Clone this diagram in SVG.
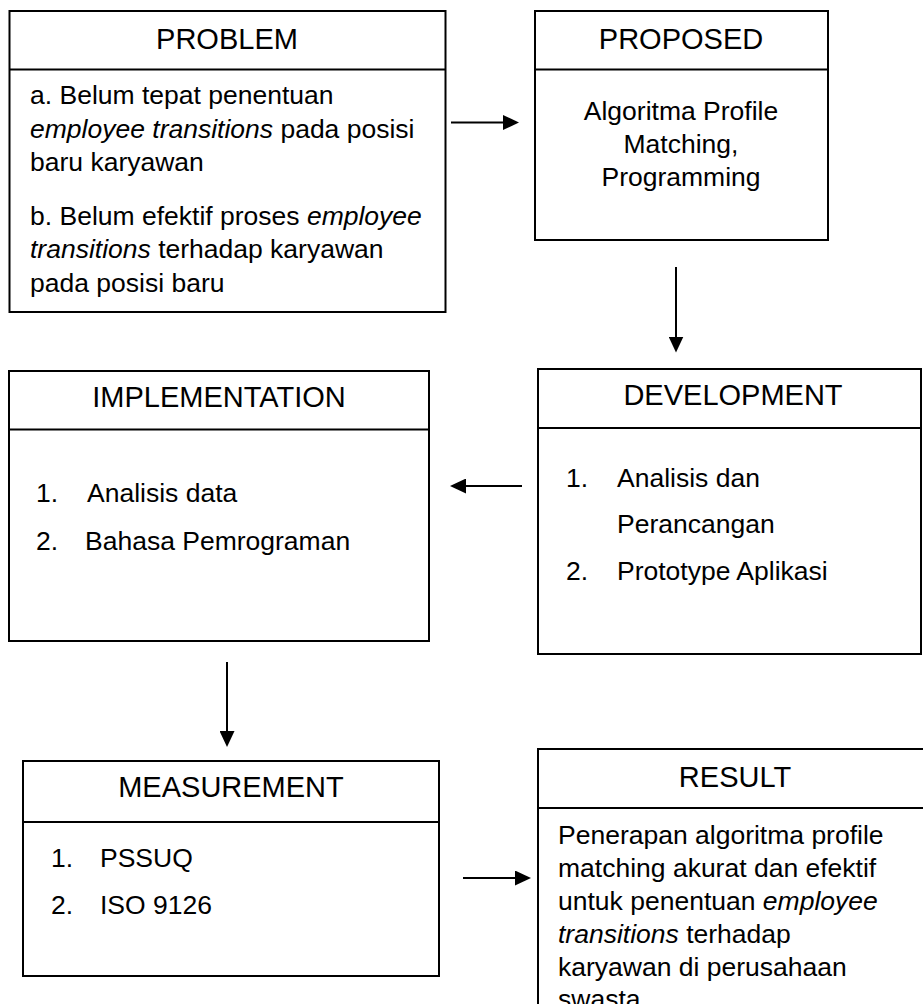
<svg xmlns="http://www.w3.org/2000/svg" width="923" height="1004" viewBox="0 0 923 1004">
<style>
.box{fill:#fff;stroke:#000;stroke-width:2}
.div{stroke:#000;stroke-width:2}
.t{font-family:"Liberation Sans",Arial,sans-serif;font-size:29px;fill:#000;text-anchor:middle}
.b{font-family:"Liberation Sans",Arial,sans-serif;font-size:26.5px;fill:#000}
.c{text-anchor:middle}
.i{font-style:italic}
.conn{stroke:#000;stroke-width:2;fill:none;marker-end:url(#ah)}
</style>
<defs>
<marker id="ah" markerUnits="userSpaceOnUse" markerWidth="16" markerHeight="15" refX="1" refY="7.5" orient="auto">
<path d="M0,0 L16,7.5 L0,15 z" fill="#000"/>
</marker>
</defs>
<rect width="923" height="1004" fill="#fff"/>
<g id="problem">
<rect class="box" x="9.5" y="11" width="436" height="301"/>
<line class="div" x1="9.5" y1="69.5" x2="445.5" y2="69.5"/>
<text class="t" x="227" y="48.5">PROBLEM</text>
<text class="b" x="30" y="104.3">a. Belum tepat penentuan</text>
<text class="b" x="30" y="137.6"><tspan class="i">employee transitions</tspan> pada posisi</text>
<text class="b" x="30" y="170.9">baru karyawan</text>
<text class="b" x="30" y="225">b. Belum efektif proses <tspan class="i">employee</tspan></text>
<text class="b" x="30" y="258.3"><tspan class="i">transitions</tspan> terhadap karyawan</text>
<text class="b" x="30" y="291.6">pada posisi baru</text>
</g>
<g id="proposed">
<rect class="box" x="535" y="11" width="293" height="229"/>
<line class="div" x1="535" y1="69.5" x2="828" y2="69.5"/>
<text class="t" x="681" y="49">PROPOSED</text>
<text class="b c" x="681" y="119.5">Algoritma Profile</text>
<text class="b c" x="681" y="153">Matching,</text>
<text class="b c" x="681" y="186">Programming</text>
</g>
<g id="development">
<rect class="box" x="538" y="369" width="383" height="285"/>
<line class="div" x1="538" y1="428" x2="921" y2="428"/>
<text class="t" x="733" y="405">DEVELOPMENT</text>
<text class="b" x="566" y="487">1.</text>
<text class="b" x="617" y="487">Analisis dan</text>
<text class="b" x="617" y="533">Perancangan</text>
<text class="b" x="566" y="580">2.</text>
<text class="b" x="617" y="580">Prototype Aplikasi</text>
</g>
<g id="implementation">
<rect class="box" x="9" y="371" width="420" height="270"/>
<line class="div" x1="9" y1="429.5" x2="429" y2="429.5"/>
<text class="t" x="219" y="406.5">IMPLEMENTATION</text>
<text class="b" x="36" y="502">1.</text>
<text class="b" x="87" y="502">Analisis data</text>
<text class="b" x="36" y="549.5">2.</text>
<text class="b" x="85" y="549.5">Bahasa Pemrograman</text>
</g>
<g id="measurement">
<rect class="box" x="23" y="761" width="416" height="215"/>
<line class="div" x1="23" y1="822" x2="439" y2="822"/>
<text class="t" x="231" y="796.5">MEASUREMENT</text>
<text class="b" x="51" y="867">1.</text>
<text class="b" x="100" y="867">PSSUQ</text>
<text class="b" x="51" y="914">2.</text>
<text class="b" x="100" y="914">ISO 9126</text>
</g>
<g id="result">
<rect class="box" x="538" y="749" width="394" height="300"/>
<line class="div" x1="538" y1="808" x2="932" y2="808"/>
<text class="t" x="735" y="786.5">RESULT</text>
<text class="b" x="558" y="844">Penerapan algoritma profile</text>
<text class="b" x="558" y="877">matching akurat dan efektif</text>
<text class="b" x="558" y="910">untuk penentuan <tspan class="i">employee</tspan></text>
<text class="b" x="558" y="943"><tspan class="i">transitions</tspan> terhadap</text>
<text class="b" x="558" y="975.5">karyawan di perusahaan</text>
<text class="b" x="558" y="1008">swasta</text>
</g>
<g id="connectors">
<line class="conn" x1="451" y1="122.5" x2="504" y2="122.5"/>
<line class="conn" x1="676" y1="267" x2="676" y2="337.5"/>
<line class="conn" x1="522" y1="486" x2="465" y2="486"/>
<line class="conn" x1="227" y1="662" x2="227" y2="732"/>
<line class="conn" x1="463" y1="878" x2="516" y2="878"/>
</g>
</svg>
